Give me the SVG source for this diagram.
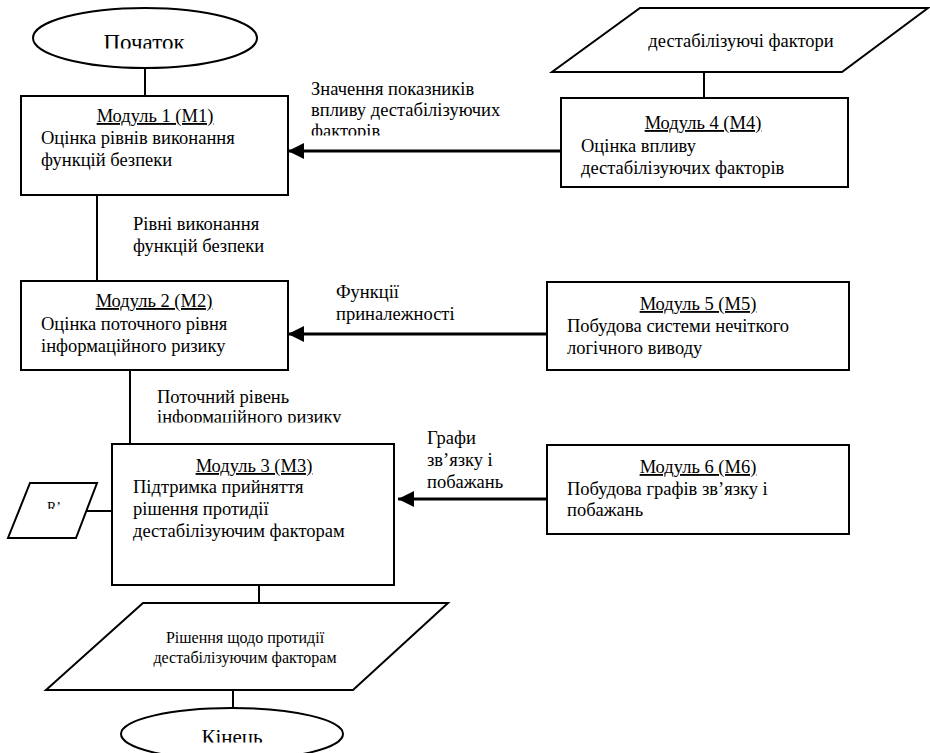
<svg xmlns="http://www.w3.org/2000/svg" width="930" height="753" viewBox="0 0 930 753">
<style>
.sh{fill:#fff;stroke:#000;stroke-width:2}
.t{font-family:"Liberation Serif","Times New Roman",serif;font-size:18.5px;fill:#000}
.h{text-decoration:underline;text-anchor:middle}
.c{text-anchor:middle}
.ln{stroke:#000;stroke-width:2;fill:none}
.ar{stroke:#000;stroke-width:3;fill:none;marker-end:url(#ah)}
</style>
<defs>
<marker id="ah" markerUnits="userSpaceOnUse" markerWidth="16" markerHeight="16" refX="16" refY="8" orient="auto">
<path d="M0,0 L16,8 L0,16 Z" fill="#000"/>
</marker>
<clipPath id="cStart"><rect x="0" y="0" width="300" height="48.5"/></clipPath>
<clipPath id="cL1"><rect x="300" y="70" width="260" height="65.5"/></clipPath>
<clipPath id="cL3"><rect x="140" y="380" width="260" height="42.5"/></clipPath>
<clipPath id="cR"><rect x="30" y="490" width="50" height="19"/></clipPath>
<clipPath id="cEnd"><rect x="120" y="700" width="230" height="42.5"/></clipPath>
</defs>
<g id="connectors">
<line class="ln" x1="145" y1="68" x2="145" y2="96"/>
<line class="ln" x1="97" y1="195" x2="97" y2="281"/>
<line class="ln" x1="130" y1="370" x2="130" y2="444"/>
<line class="ln" x1="86" y1="511" x2="112" y2="511"/>
<line class="ln" x1="259" y1="585" x2="259" y2="603"/>
<line class="ln" x1="233" y1="690" x2="233" y2="708"/>
<line class="ln" x1="704" y1="72" x2="704" y2="98"/>
<line class="ar" x1="561" y1="151" x2="288" y2="151"/>
<line class="ar" x1="547" y1="334" x2="288" y2="334"/>
<line class="ar" x1="547" y1="499" x2="398" y2="499"/>
<text class="t" x="311" y="95">Значення показників</text>
<text class="t" x="311" y="116">впливу дестабілізуючих</text>
<text class="t" x="311" y="137" clip-path="url(#cL1)">факторів</text>
<text class="t" x="133" y="230">Рівні виконання</text>
<text class="t" x="133" y="252">функцій безпеки</text>
<text class="t" x="336" y="298">Функції</text>
<text class="t" x="336" y="320">приналежності</text>
<text class="t" x="157" y="403">Поточний рівень</text>
<text class="t" x="157" y="423" clip-path="url(#cL3)">інформаційного ризику</text>
<text class="t" x="427" y="444">Графи</text>
<text class="t" x="427" y="466">зв’язку і</text>
<text class="t" x="427" y="488">побажань</text>
</g>
<g id="start">
<ellipse class="sh" cx="145" cy="38" rx="112" ry="30"/>
<text class="t c" x="144" y="50" style="font-size:23px" clip-path="url(#cStart)">Початок</text>
</g>
<g id="m1">
<rect class="sh" x="21" y="96" width="267" height="99"/>
<text class="t h" x="155" y="122">Модуль 1 (М1)</text>
<text class="t" x="41" y="144">Оцінка рівнів виконання</text>
<text class="t" x="41" y="166">функцій безпеки</text>
</g>
<g id="input-factors">
<polygon class="sh" points="640,8 928,8 842,72 552,72"/>
<text class="t c" x="741" y="47">дестабілізуючі фактори</text>
</g>
<g id="m4">
<rect class="sh" x="561" y="98" width="287" height="89"/>
<text class="t h" x="703" y="129">Модуль 4 (М4)</text>
<text class="t" x="581" y="152">Оцінка впливу</text>
<text class="t" x="581" y="174">дестабілізуючих факторів</text>
</g>
<g id="m2">
<rect class="sh" x="21" y="281" width="267" height="89"/>
<text class="t h" x="154" y="307">Модуль 2 (М2)</text>
<text class="t" x="41" y="330">Оцінка поточного рівня</text>
<text class="t" x="41" y="352">інформаційного ризику</text>
</g>
<g id="m5">
<rect class="sh" x="547" y="282" width="302" height="88"/>
<text class="t h" x="698" y="310">Модуль 5 (М5)</text>
<text class="t" x="567" y="332">Побудова системи нечіткого</text>
<text class="t" x="567" y="354">логічного виводу</text>
</g>
<g id="m3">
<rect class="sh" x="112" y="444" width="282" height="141"/>
<text class="t h" x="254" y="472">Модуль 3 (М3)</text>
<text class="t" x="133" y="493">Підтримка прийняття</text>
<text class="t" x="133" y="515">рішення протидії</text>
<text class="t" x="133" y="537">дестабілізуючим факторам</text>
</g>
<g id="r-input">
<polygon class="sh" points="30,483 97,483 76,538 8,538"/>
<text class="t c" x="54" y="512" style="font-size:14px" clip-path="url(#cR)">R’</text>
</g>
<g id="m6">
<rect class="sh" x="547" y="445" width="302" height="89"/>
<text class="t h" x="698" y="473">Модуль 6 (М6)</text>
<text class="t" x="567" y="495">Побудова графів зв’язку і</text>
<text class="t" x="567" y="516">побажань</text>
</g>
<g id="output">
<polygon class="sh" points="143,603 448,603 353,690 46,690"/>
<text class="t c" x="245" y="643" style="font-size:16px">Рішення щодо протидії</text>
<text class="t c" x="245" y="663" style="font-size:16px">дестабілізуючим факторам</text>
</g>
<g id="end">
<ellipse class="sh" cx="232" cy="734" rx="111" ry="26"/>
<text class="t c" x="232" y="744" style="font-size:21px" clip-path="url(#cEnd)">Кінець</text>
</g>
</svg>
